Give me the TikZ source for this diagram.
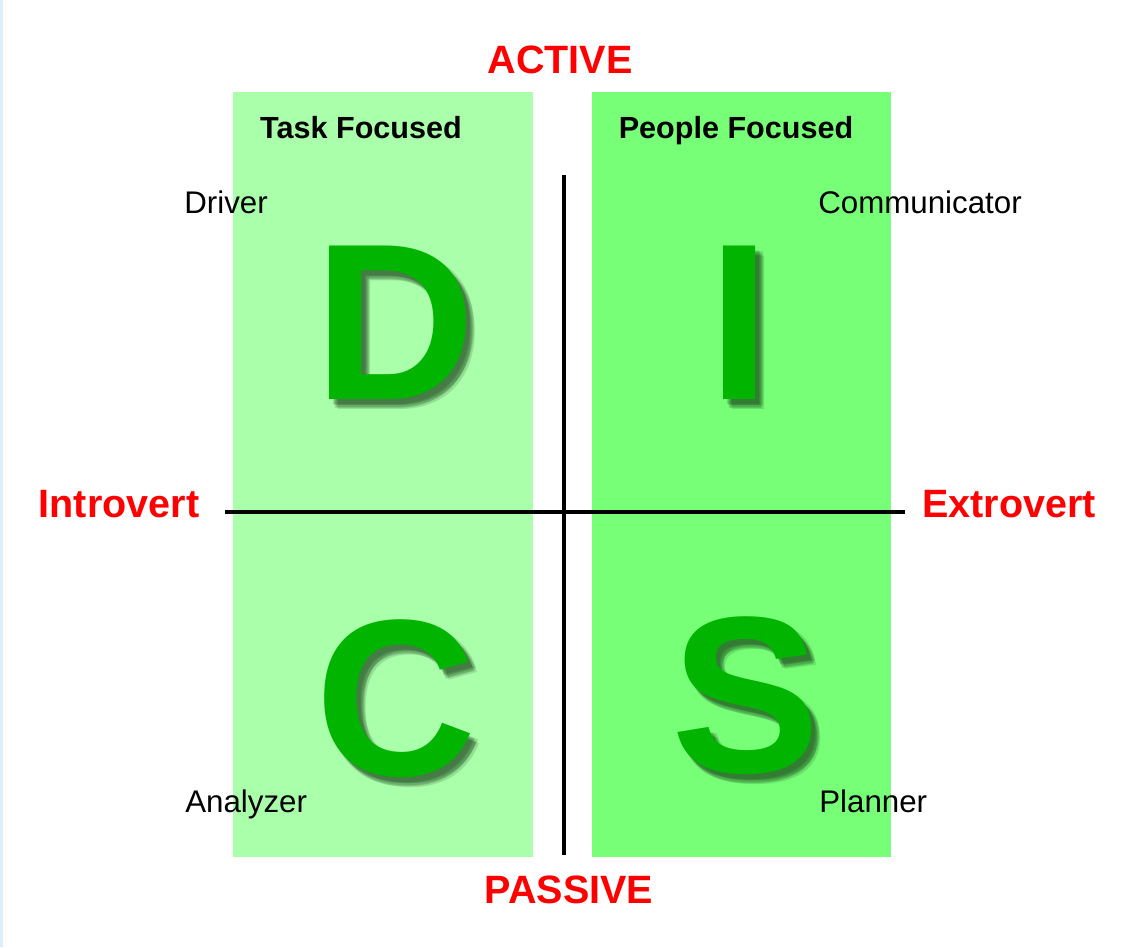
\documentclass[tikz,border=0pt]{standalone}
\usepackage{fontspec}
\setmainfont{Liberation Sans}
\definecolor{taskgreen}{HTML}{AAFFAA}
\definecolor{peoplegreen}{HTML}{77FF77}
\definecolor{lettergreen}{HTML}{00B400}
\definecolor{shadowgreen}{HTML}{123812}
\definecolor{axisred}{HTML}{FF0000}
\definecolor{edgeblue}{HTML}{DDEEFF}
\begin{document}
\begin{tikzpicture}
[x=0.02cm, y=-0.02cm,
  bigletter/.style={inner sep=0pt, anchor=base, text=lettergreen,
    font=\fontsize{127}{127}\selectfont\bfseries},
  lettershadow/.style={bigletter, text=shadowgreen, opacity=0.16},
  axislabel/.style={inner sep=0pt, anchor=base, text=axisred,
    font=\fontsize{22.5}{26}\selectfont\bfseries},
  focuslabel/.style={inner sep=0pt, anchor=base,
    font=\fontsize{17.4}{20}\selectfont\bfseries},
  stylelabel/.style={inner sep=0pt, anchor=base west,
    font=\fontsize{17.8}{20}\selectfont},
  axisline/.style={-, line width=2.8pt}]
\useasboundingbox (0,0) rectangle (1121,947);
\fill[white] (0,0) rectangle (1121,947);
\fill[edgeblue] (0,0) rectangle (3,947);
%% quadrant columns
\fill[taskgreen] (233,92) rectangle (533,857);
\fill[peoplegreen] (592,92) rectangle (891,857);
%% big letters with soft shadow
\foreach \nodename/\x/\y in {D/395/399, I/739/399, C/396/775, S/746/772}
{
  \foreach \dx/\dy in {9/10, 7/8, 5/6, 8/6, 6/9, 4/5}
    \node [lettershadow] at (\x+\dx,\y+\dy) {\nodename};
  \node (\nodename) [bigletter] at (\x,\y) {\nodename};
}
%% axes
\coordinate (top) at (564,175);
\coordinate (bottom) at (564,855);
\coordinate (left) at (225,512);
\coordinate (right) at (905,512);
\draw[axisline] (top) -- (bottom);
\draw[axisline] (left) -- (right);
%% axis labels
\foreach \nodename/\x/\y/\txt in {active/560/73/ACTIVE, passive/569/903/PASSIVE,
  introvert/119/517/Introvert, extrovert/1009/517/Extrovert}
{
  \node (\nodename) [axislabel] at (\x,\y) {\txt};
}
\foreach \nodename/\x/\y/\txt in {task/361/138/Task Focused,
  people/736/138/People Focused}
{
  \node (\nodename) [focuslabel] at (\x,\y) {\txt};
}
\foreach \nodename/\x/\y/\txt in {driver/184/213/Driver,
  communicator/818/213/Communicator, analyzer/185/812/Analyzer,
  planner/819/812/Planner}
{
  \node (\nodename) [stylelabel] at (\x,\y) {\txt};
}
\end{tikzpicture}
\end{document}
